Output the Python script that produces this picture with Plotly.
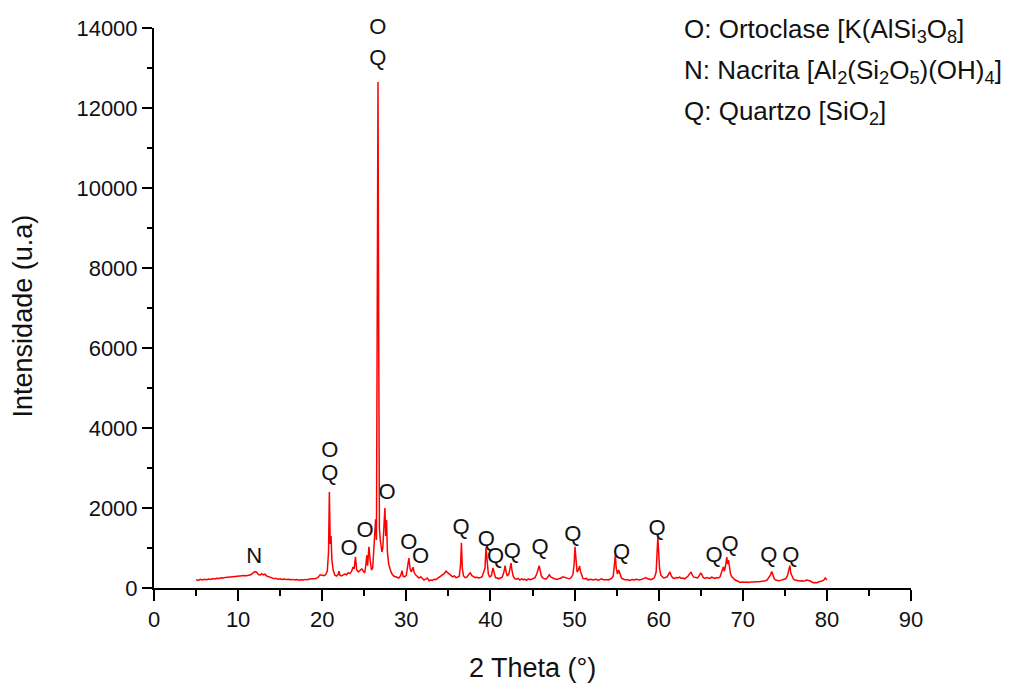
import plotly.graph_objects as go

# Diffractogram: 2-theta (degrees) and intensity (a.u.)
two_theta = [
    5.0, 5.25, 5.5, 5.75, 6.0, 6.25, 6.5, 6.75, 7.0, 7.25, 7.5, 7.75, 8.0, 8.25, 8.5, 8.75,
    9.0, 9.25, 9.5, 9.75, 10.0, 10.25, 10.5, 10.75, 11.0, 11.25, 11.5, 11.75, 12.0, 12.2,
    12.4, 12.6, 12.8, 13.0, 13.2, 13.4, 13.6, 13.8, 14.0, 14.25, 14.5, 14.75, 15.0, 15.25,
    15.5, 15.75, 16.0, 16.25, 16.5, 16.75, 17.0, 17.25, 17.5, 17.75, 18.0, 18.25, 18.5,
    18.75, 19.0, 19.25, 19.5, 19.75, 20.0, 20.2, 20.4, 20.6, 20.75, 20.85, 20.95, 21.05,
    21.15, 21.3, 21.5, 21.7, 21.9, 22.0, 22.1, 22.3, 22.5, 22.7, 22.9, 23.1, 23.3, 23.5,
    23.65, 23.8, 23.95, 24.1, 24.3, 24.5, 24.7, 24.9, 25.05, 25.2, 25.3, 25.4, 25.55, 25.7,
    25.85, 26.0, 26.2, 26.35, 26.45, 26.55, 26.63, 26.72, 26.8, 26.9, 27.0, 27.1, 27.2,
    27.35, 27.45, 27.55, 27.65, 27.75, 27.9, 28.1, 28.3, 28.5, 28.7, 28.9, 29.1, 29.3,
    29.5, 29.6, 29.8, 30.0, 30.15, 30.3, 30.45, 30.6, 30.8, 30.95, 31.1, 31.3, 31.5, 31.7,
    31.9, 32.1, 32.3, 32.5, 32.7, 32.9, 33.1, 33.3, 33.5, 33.7, 33.9, 34.1, 34.3, 34.5,
    34.7, 34.9, 35.1, 35.3, 35.5, 35.7, 35.9, 36.1, 36.3, 36.45, 36.55, 36.65, 36.8, 37.0,
    37.2, 37.4, 37.6, 37.8, 38.0, 38.2, 38.4, 38.6, 38.8, 39.0, 39.2, 39.35, 39.47, 39.6,
    39.75, 39.9, 40.1, 40.3, 40.45, 40.6, 40.8, 41.0, 41.2, 41.4, 41.6, 41.75, 41.85, 42.0,
    42.2, 42.35, 42.45, 42.55, 42.7, 42.9, 43.1, 43.3, 43.5, 43.7, 43.9, 44.1, 44.3, 44.5,
    44.7, 44.9, 45.1, 45.3, 45.5, 45.7, 45.8, 45.9, 46.05, 46.2, 46.4, 46.6, 46.8, 47.0,
    47.2, 47.4, 47.6, 47.8, 48.0, 48.2, 48.4, 48.6, 48.8, 49.0, 49.2, 49.4, 49.6, 49.8,
    49.95, 50.05, 50.15, 50.3, 50.45, 50.6, 50.7, 50.85, 51.0, 51.2, 51.4, 51.6, 51.8,
    52.0, 52.2, 52.4, 52.6, 52.8, 53.0, 53.2, 53.4, 53.6, 53.8, 54.0, 54.2, 54.4, 54.6,
    54.75, 54.85, 54.95, 55.1, 55.25, 55.4, 55.55, 55.7, 55.9, 56.1, 56.3, 56.5, 56.7,
    56.9, 57.1, 57.3, 57.5, 57.7, 57.9, 58.1, 58.3, 58.5, 58.7, 58.9, 59.1, 59.3, 59.5,
    59.7, 59.8, 59.9, 60.0, 60.1, 60.25, 60.4, 60.6, 60.8, 61.0, 61.2, 61.35, 61.5, 61.7,
    61.9, 62.1, 62.3, 62.5, 62.7, 62.9, 63.1, 63.3, 63.5, 63.7, 63.85, 64.0, 64.2, 64.4,
    64.6, 64.8, 65.0, 65.15, 65.3, 65.5, 65.7, 65.9, 66.1, 66.3, 66.5, 66.7, 66.9, 67.1,
    67.3, 67.5, 67.7, 67.8, 67.95, 68.1, 68.2, 68.3, 68.4, 68.55, 68.7, 68.9, 69.1, 69.3,
    69.5, 69.7, 69.9, 70.1, 70.3, 70.5, 70.7, 70.9, 71.1, 71.3, 71.5, 71.7, 71.9, 72.1,
    72.3, 72.5, 72.7, 72.9, 73.1, 73.3, 73.45, 73.6, 73.75, 73.9, 74.1, 74.3, 74.5, 74.7,
    74.9, 75.1, 75.3, 75.45, 75.6, 75.7, 75.85, 76.0, 76.2, 76.4, 76.6, 76.8, 77.0, 77.2,
    77.4, 77.6, 77.8, 78.0, 78.2, 78.4, 78.6, 78.8, 79.0, 79.2, 79.4, 79.6, 79.8, 80.0,
]
intensity = [
    210, 190, 215, 200, 220, 205, 225, 215, 235, 225, 245, 240, 255, 250, 265, 270,
    285, 275, 290, 300, 295, 305, 300, 310, 305, 320, 330, 370, 410, 395,
    340, 320, 360, 330, 345, 300, 280, 270, 260, 235, 240, 220, 230, 215,
    225, 210, 220, 205, 215, 200, 210, 195, 205, 200, 215, 205, 225,
    230, 245, 240, 265, 330, 320, 310, 330, 420, 900, 2400, 1100, 1300,
    700, 450, 320, 300, 340, 420, 320, 300, 330, 350, 330, 380, 360, 420,
    520, 480, 780, 450, 400, 430, 480, 420, 380, 600, 820, 560, 1030, 700,
    450, 500, 1200, 1720, 1200, 7000, 12650, 6000, 1500, 1200, 1000, 900, 1000,
    1500, 2000, 1300, 1700, 900, 600, 450, 350, 300, 280, 260, 250, 300,
    430, 300, 280, 320, 550, 750, 480, 400, 520, 380, 330, 280, 250, 280,
    240, 200, 220, 250, 180, 200, 190, 220, 210, 240, 260, 300, 330, 360,
    420, 380, 340, 300, 280, 300, 260, 270, 300, 600, 1130, 500, 300, 260,
    270, 330, 380, 310, 280, 260, 270, 250, 260, 280, 400, 500, 1010, 600,
    350, 280, 300, 500, 350, 260, 250, 230, 250, 270, 400, 560, 420, 300,
    350, 560, 620, 450, 300, 230, 220, 240, 200, 230, 210, 220, 190, 230,
    210, 220, 240, 260, 350, 470, 560, 450, 300, 250, 230, 220, 270, 330,
    270, 240, 230, 220, 220, 240, 250, 280, 260, 250, 240, 230, 260, 330,
    600, 1030, 700, 400, 450, 550, 420, 300, 240, 230, 240, 200, 220,
    210, 200, 210, 220, 190, 210, 230, 210, 200, 210, 200, 220, 240, 300,
    600, 825, 500, 350, 450, 350, 260, 230, 220, 200, 210, 190, 200,
    210, 200, 220, 210, 200, 210, 230, 240, 260, 230, 220, 210, 230, 260,
    400, 800, 1270, 900, 500, 320, 280, 250, 260, 280, 350, 400, 300, 250,
    240, 260, 250, 270, 240, 250, 230, 260, 300, 360, 400, 320, 270, 260,
    250, 300, 380, 330, 260, 240, 260, 250, 240, 270, 250, 240, 260, 250,
    280, 400, 530, 420, 550, 775, 600, 700, 500, 350, 280, 230, 200, 180,
    150, 140, 150, 140, 145, 150, 140, 150, 145, 150, 155, 150, 155, 160,
    165, 170, 180, 200, 260, 330, 410, 300, 230, 200, 190, 180, 190, 200,
    210, 230, 300, 400, 560, 380, 280, 230, 200, 190, 180, 175, 180, 170,
    180, 200, 190, 180, 150, 130, 140, 130, 150, 170, 180, 190, 250, 200,
]

# Phase labels placed above the peaks
label_text = ["N", "O", "Q", "O", "O", "O", "O", "Q", "O", "O", "Q", "Q", "Q", "Q",
              "Q", "Q", "Q", "Q", "Q", "Q", "Q", "Q"]
label_x = [11.9, 20.9, 20.9, 23.2, 25.1, 27.7, 26.6, 26.6, 30.3, 31.7, 36.5, 39.5, 40.6,
           42.6, 45.9, 49.8, 55.6, 59.8, 66.6, 68.5, 73.1, 75.7]
label_y = [775, 3425, 2850, 975, 1425, 2375, 14000, 13225, 1125, 775, 1500, 1200, 775,
           900, 1000, 1325, 875, 1475, 800, 1075, 800, 800]

legend_lines = [
    "O: Ortoclase [K(AlSi<sub>3</sub>O<sub>8</sub>]",
    "N: Nacrita [Al<sub>2</sub>(Si<sub>2</sub>O<sub>5</sub>)(OH)<sub>4</sub>]",
    "Q: Quartzo [SiO<sub>2</sub>]",
]

FONT = "Arial, Liberation Sans, sans-serif"
INK = "#111111"

fig = go.Figure()
fig.add_trace(go.Scatter(
    x=two_theta, y=intensity, mode="lines",
    line=dict(color="#ff0000", width=1.5), showlegend=False,
))
fig.add_trace(go.Scatter(
    x=label_x, y=label_y, mode="text", text=label_text,
    textposition="middle center", cliponaxis=False,
    textfont=dict(family=FONT, size=22, color=INK), showlegend=False,
))

legend_y = [0.996, 0.923, 0.850]
for txt, yy in zip(legend_lines, legend_y):
    fig.add_annotation(
        text=txt, xref="paper", yref="paper", x=0.6975, y=yy,
        xanchor="left", yanchor="middle", showarrow=False,
        font=dict(family=FONT, size=26, color=INK),
    )

# Axis titles
fig.add_annotation(
    text="2 Theta (°)", xref="paper", yref="paper", x=0.5, y=-0.143,
    xanchor="center", yanchor="middle", showarrow=False,
    font=dict(family=FONT, size=27, color=INK),
)
fig.add_annotation(
    text="Intensidade (u.a)", xref="paper", yref="paper", x=-0.173, y=0.485,
    xanchor="center", yanchor="middle", showarrow=False, textangle=-90,
    font=dict(family=FONT, size=27, color=INK),
)

fig.update_layout(
    width=1016, height=686,
    margin=dict(l=154, r=105, t=28, b=98),
    paper_bgcolor="white", plot_bgcolor="white",
    font=dict(family=FONT, color=INK),
    showlegend=False,
)
fig.update_xaxes(
    range=[0, 90], tickvals=[0, 10, 20, 30, 40, 50, 60, 70, 80, 90],
    showgrid=False, zeroline=False,
    showline=True, linecolor="black", linewidth=2,
    ticks="outside", ticklen=11, tickwidth=2, tickcolor="black",
    minor=dict(tickvals=[5, 15, 25, 35, 45, 55, 65, 75, 85], ticks="outside",
               ticklen=6, tickwidth=2, tickcolor="black"),
    tickfont=dict(family=FONT, size=22, color=INK),
)
fig.update_yaxes(
    range=[0, 14000], tickvals=list(range(0, 14001, 2000)), tickformat="d",
    showgrid=False, zeroline=False,
    showline=True, linecolor="black", linewidth=2,
    ticks="outside", ticklen=10, tickwidth=2, tickcolor="black",
    minor=dict(tickvals=list(range(1000, 14000, 2000)), ticks="outside",
               ticklen=5, tickwidth=2, tickcolor="black"),
    tickfont=dict(family=FONT, size=22, color=INK),
)

fig.write_html("out.html")
